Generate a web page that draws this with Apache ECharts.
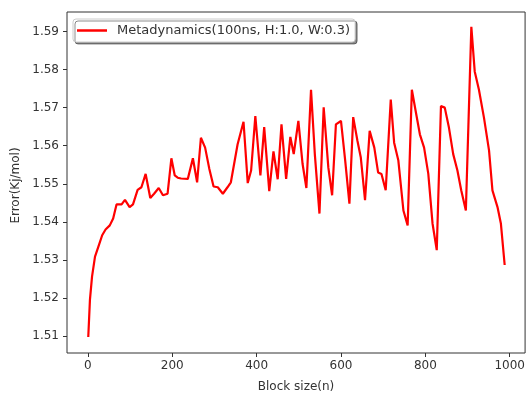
<!DOCTYPE html>
<html>
<head>
<meta charset="utf-8">
<script src="https://cdn.jsdelivr.net/npm/echarts@6/dist/echarts.min.js"></script>
<style>html,body{margin:0;padding:0;background:#fff;}#c{width:528px;height:398px;}</style>
</head>
<body>
<div id="c"></div>
<script>
var seriesName = 'Metadynamics(100ns, H:1.0, W:0.3)';
var blockSize = [1, 5, 10, 17, 25, 34, 42, 52, 60, 68, 80, 88, 99, 107, 118, 127, 137, 148, 157, 168, 178, 189, 198, 206, 213, 221, 237, 241, 249, 259, 268, 278, 288, 298, 308, 320, 331, 339, 355, 369, 379, 387, 397, 409, 418, 430, 440, 450, 459, 470, 480, 488, 499, 509, 518, 529, 538, 549, 559, 570, 579, 588, 600, 610, 620, 629, 639, 647, 657, 668, 679, 688, 696, 706, 718, 726, 736, 748, 758, 768, 777, 787, 797, 807, 817, 827, 837, 846, 856, 866, 876, 885, 896, 909, 917, 927, 939, 951, 959, 971, 979, 988];
var errorValues = [1.5098, 1.5196, 1.5257, 1.5309, 1.5335, 1.5365, 1.5380, 1.5391, 1.5409, 1.5446, 1.5446, 1.5458, 1.5439, 1.5446, 1.5484, 1.5491, 1.5526, 1.5463, 1.5474, 1.5489, 1.5470, 1.5474, 1.5567, 1.5522, 1.5516, 1.5514, 1.5513, 1.5509, 1.5567, 1.5504, 1.5621, 1.5595, 1.5539, 1.5493, 1.5491, 1.5474, 1.5491, 1.5504, 1.5604, 1.5663, 1.5502, 1.5535, 1.5678, 1.5522, 1.5649, 1.5481, 1.5585, 1.5512, 1.5656, 1.5513, 1.5623, 1.5578, 1.5665, 1.5552, 1.5489, 1.5747, 1.5578, 1.5422, 1.5701, 1.5543, 1.5470, 1.5656, 1.5665, 1.5561, 1.5448, 1.5675, 1.5613, 1.5569, 1.5457, 1.5639, 1.5595, 1.5530, 1.5526, 1.5483, 1.5721, 1.5608, 1.5561, 1.5430, 1.5391, 1.5747, 1.5691, 1.5630, 1.5595, 1.5526, 1.5396, 1.5326, 1.5704, 1.5700, 1.5647, 1.5578, 1.5535, 1.5483, 1.5430, 1.5912, 1.5795, 1.5747, 1.5673, 1.5587, 1.5483, 1.5439, 1.5396, 1.5287];
var xTicks = [0, 200, 400, 600, 800, 1000];
var yTicks = [1.51, 1.52, 1.53, 1.54, 1.55, 1.56, 1.57, 1.58, 1.59];

var pairs = blockSize.map(function (x, i) { return [x, errorValues[i]]; });
var font = 'DejaVu Sans';
var chart = echarts.init(document.getElementById('c'), null, {renderer: 'canvas'});
chart.setOption({
  animation: false,
  backgroundColor: '#fff',
  grid: {left: 67, right: 2, top: 12, bottom: 42, show: true, borderColor: '#333', borderWidth: 1, backgroundColor: 'transparent'},
  legend: {
    left: 73, top: 19,
    data: [seriesName],
    icon: 'rect', itemWidth: 30, itemHeight: 2.5, itemGap: 10,
    padding: [5, 5, 5, 4],
    backgroundColor: '#fff', borderColor: '#ccc', borderWidth: 1, borderRadius: 3,
    shadowColor: 'rgba(0,0,0,0.45)', shadowOffsetX: 2, shadowOffsetY: 2, shadowBlur: 0,
    textStyle: {fontFamily: font, fontSize: 13, color: '#333', padding: [0, 0, 0, 5]}
  },
  xAxis: {
    type: 'value', min: -49.4, max: 1036.4,
    name: 'Block size(n)', nameLocation: 'middle', nameGap: 28,
    nameTextStyle: {fontFamily: font, fontSize: 12, color: '#333'},
    axisLine: {show: false, onZero: false},
    splitLine: {show: false},
    axisTick: {show: true, length: 4, lineStyle: {color: '#333'}, customValues: xTicks},
    axisLabel: {fontFamily: font, fontSize: 12, color: '#333', margin: 7, customValues: xTicks,
      formatter: function (v) { return String(v); }}
  },
  yAxis: {
    type: 'value', min: 1.5056, max: 1.5951,
    name: 'Error(Kj/mol)', nameLocation: 'middle', nameGap: 44,
    nameTextStyle: {fontFamily: font, fontSize: 12, color: '#333', padding: [0, 6, 0, 0]},
    axisLine: {show: false, onZero: false},
    splitLine: {show: false},
    axisTick: {show: true, length: 4, lineStyle: {color: '#333'}, customValues: yTicks},
    axisLabel: {fontFamily: font, fontSize: 12, color: '#333', margin: 8, customValues: yTicks,
      formatter: function (v) { return v.toFixed(2); }}
  },
  series: [{
    name: seriesName, type: 'line', data: pairs,
    showSymbol: false, symbol: 'none',
    lineStyle: {color: '#ff0000', width: 2.2},
    itemStyle: {color: '#ff0000'}
  }]
});
</script>
</body>
</html>
